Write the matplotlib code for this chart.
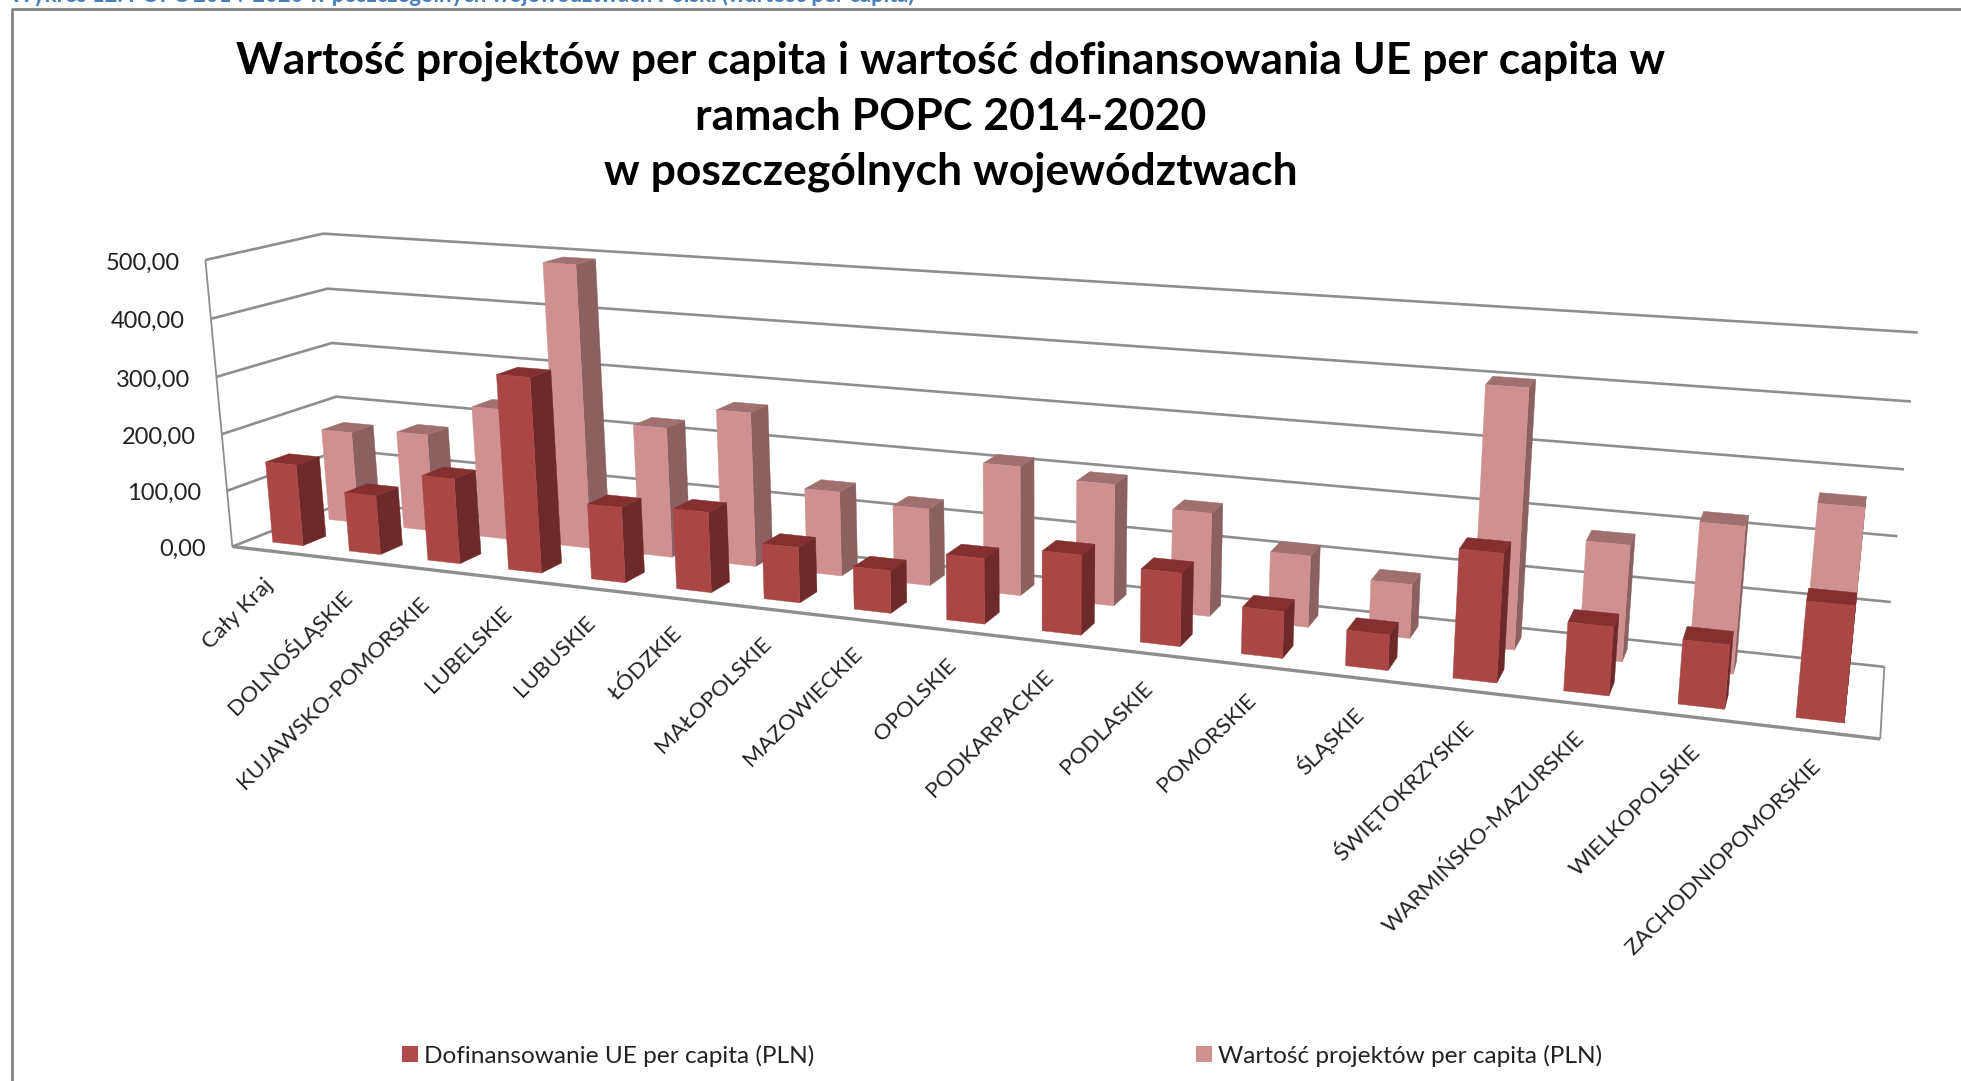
import numpy as np
import matplotlib
matplotlib.use("Agg")
import matplotlib.pyplot as plt
from matplotlib.patches import Polygon, Patch

plt.rcParams['font.family'] = ['Lato', 'DejaVu Sans']

categories = ["Cały Kraj", "DOLNOŚLĄSKIE", "KUJAWSKO-POMORSKIE", "LUBELSKIE", "LUBUSKIE", "ŁÓDZKIE",
              "MAŁOPOLSKIE", "MAZOWIECKIE", "OPOLSKIE", "PODKARPACKIE", "PODLASKIE", "POMORSKIE",
              "ŚLĄSKIE", "ŚWIĘTOKRZYSKIE", "WARMIŃSKO-MAZURSKIE", "WIELKOPOLSKIE", "ZACHODNIOPOMORSKIE"]
dofinansowanie = [144, 104, 148, 333, 128, 135, 92, 70, 106, 128, 116, 73, 55, 195, 103, 95, 169]
wartosc = [166, 175, 233, 494, 226, 265, 144, 130, 215, 200, 168, 115, 86, 403, 180, 224, 267]
z_ticks = [0, 100, 200, 300, 400, 500]
z_labels = ["0,00", "100,00", "200,00", "300,00", "400,00", "500,00"]
title = "Wartość projektów per capita i wartość dofinansowania UE per capita w\nramach POPC 2014-2020\nw poszczególnych województwach"
header = "Wykres 12. POPC 2014-2020 w poszczególnych województwach Polski (wartość per capita)"
series_names = ["Dofinansowanie UE per capita (PLN)", "Wartość projektów per capita (PLN)"]

# perspective calibration: pixel position of the chart frame's corners, by tick (0..500)
front_left = [(231.5, 547), (228, 491), (223, 433), (217, 376.5), (210.5, 318), (204, 261)]
back_left = [(344, 503), (340, 450), (336.5, 396), (332, 343), (328, 288), (323, 234.5)]
back_right = [(1884, 666), (1891, 601.7), (1898, 536), (1904, 469.3), (1911, 401.7), (1917.5, 332.7)]
front_right_floor = (1880, 740)
n = len(categories)

world, px = [], []
for k, z in enumerate(z_ticks):
    world += [(0, 0, z), (0, 1, z), (n, 1, z)]
    px += [front_left[k], back_left[k], back_right[k]]
world.append((n, 0, 0)); px.append(front_right_floor)
A, b = [], []
for (X, Y, Z), (u, v) in zip(world, px):
    A.append([X, Y, Z/100, 1, 0, 0, 0, 0, -u*X, -u*Y, -u*Z/100]); b.append(u)
    A.append([0, 0, 0, 0, X, Y, Z/100, 1, -v*X, -v*Y, -v*Z/100]); b.append(v)
sol = np.linalg.lstsq(np.array(A, float), np.array(b, float), rcond=None)[0]
P = np.append(sol, 1).reshape(3, 4)

def proj(X, Y, Z):
    h = P @ np.array([X, Y, Z/100, 1.0])
    return (h[0]/h[2], h[1]/h[2])

fig = plt.figure(figsize=(19.61, 10.81), dpi=100)
ax = fig.add_axes([0, 0, 1, 1])
ax.set_xlim(0, 1961); ax.set_ylim(1081, 0); ax.axis('off')

GRID = '#8e8e8e'
def line(pts, lw=2.0, c=GRID, z=1):
    xs, ys = zip(*pts)
    ax.plot(xs, ys, color=c, lw=lw, zorder=z, solid_capstyle='butt')

# outer border + clipped header
line([(1961, 9), (11.5, 9), (11.5, 1081)], lw=1.9, c='#7f7f7f')
ax.text(10, 6, header, color='#4a7ebb', fontsize=15.8, fontweight='bold', va='bottom', ha='left', clip_on=True)

for z in z_ticks:
    line([proj(0, 0, z), proj(0, 1, z), proj(n, 1, z)], lw=1.9)
line([proj(0, 0, 0), proj(0, 0, 500)], lw=1.3)
line([proj(0, 0, 0), proj(n, 0, 0)], lw=2.4)
line([proj(n, 0, 0), proj(n, 1, 0)], lw=1.3)

def bar(i, y0, y1, val, front, side, top, z):
    x0, x1 = i+0.3, i+0.7
    faces = [
        ([(x1, y0, 0), (x1, y1, 0), (x1, y1, val), (x1, y0, val)], side),
        ([(x0, y0, val), (x1, y0, val), (x1, y1, val), (x0, y1, val)], top),
        ([(x0, y0, 0), (x1, y0, 0), (x1, y0, val), (x0, y0, val)], front),
    ]
    for pts, c in faces:
        ax.add_patch(Polygon([proj(*p) for p in pts], closed=True, facecolor=c, edgecolor=c, lw=0.3, zorder=z))

for i, v in enumerate(wartosc):
    bar(i, 0.65, 0.85, v, '#d09090', '#8a6060', '#a07070', 2)
for i, v in enumerate(dofinansowanie):
    bar(i, 0.15, 0.35, v, '#aa4643', '#6e2a28', '#84302e', 3)

for z, lab in zip(z_ticks, z_labels):
    x, y = proj(0, 0, z)
    ax.text(x-26, y+3, lab, ha='right', va='center', fontsize=17, color='#222222')

for i, lab in enumerate(categories):
    x, y = proj(i+0.5, 0, 0)
    ax.text(x-8, y+24, lab, rotation=45, rotation_mode='anchor', ha='right', va='top',
            fontsize=16.2, color='#222222')

ax.text(951, 116.5, title, ha='center', va='center', fontsize=32, fontweight='bold', color='black', linespacing=1.46)

handles = [Patch(facecolor='#b0494a', edgecolor='none'), Patch(facecolor='#d09090', edgecolor='none')]
ax.legend(handles, series_names, ncol=2, frameon=False, fontsize=17.6, loc='center', bbox_to_anchor=(1002, 1055.5),
          bbox_transform=ax.transData, handlelength=0.65, handleheight=0.65, handletextpad=0.25, columnspacing=15.6,
          labelcolor='#222222')
fig.savefig('out.png', dpi=100)
